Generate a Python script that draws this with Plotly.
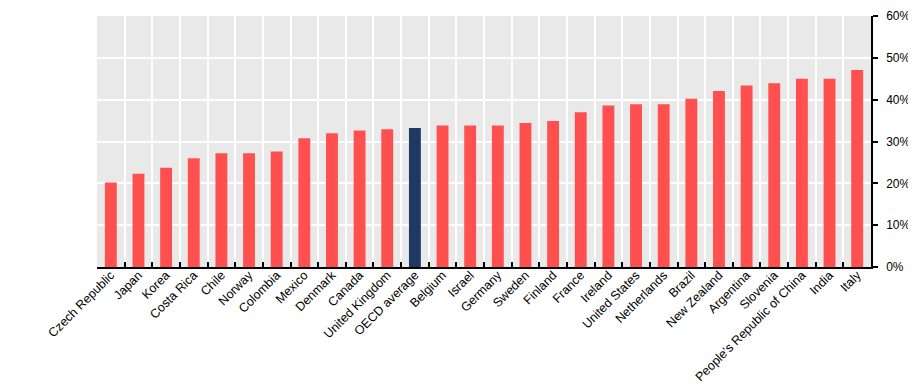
import plotly.graph_objects as go

countries = ["Czech Republic", "Japan", "Korea", "Costa Rica", "Chile", "Norway", "Colombia",
             "Mexico", "Denmark", "Canada", "United Kingdom", "OECD average", "Belgium", "Israel",
             "Germany", "Sweden", "Finland", "France", "Ireland", "United States", "Netherlands",
             "Brazil", "New Zealand", "Argentina", "Slovenia", "People's Republic of China",
             "India", "Italy"]
values = [20.2, 22.3, 23.7, 26.0, 27.2, 27.2, 27.6, 30.8, 32.0, 32.6, 32.9, 33.2, 33.8, 33.8,
          33.8, 34.4, 34.9, 37.0, 38.6, 38.9, 38.9, 40.2, 42.1, 43.4, 43.9, 45.0, 45.0, 47.1]
highlight = "OECD average"
y_ticks = [0, 10, 20, 30, 40, 50, 60]
y_labels = ["0%", "10%", "20%", "30%", "40%", "50%", "60%"]

RED = "#ff4f4f"
NAVY = "#1f3864"
colors = [NAVY if c == highlight else RED for c in countries]

fig = go.Figure(go.Bar(x=countries, y=values, marker=dict(color=colors, line=dict(width=0)),
                       width=0.43))

# page body has an 8px default margin; figure sized so it ends at the window edge
fig.update_layout(
    width=908, height=378,
    margin=dict(l=89, r=45, t=8, b=119),
    paper_bgcolor="white", plot_bgcolor="#e9e9e9",
    font=dict(family="Liberation Sans, Arial, sans-serif", size=12, color="black"),
    showlegend=False,
)
fig.update_xaxes(
    type="category", tickson="boundaries", ticks="inside", ticklen=5, tickcolor="black",
    tickwidth=1.5, showgrid=True, gridcolor="white", gridwidth=1.5, tickangle=-45,
    showline=True, linecolor="black", linewidth=2, range=[-0.5, len(countries) - 0.5],
    tickfont=dict(size=12.5), automargin=False, ticklabelstandoff=-6,
)
fig.update_yaxes(
    side="right", range=[0, 60], tickvals=y_ticks, ticktext=y_labels, ticks="outside",
    ticklen=5, tickcolor="black", tickwidth=1.5, showline=True, linecolor="black",
    linewidth=1.5, gridcolor="white", gridwidth=1.5, zeroline=False,
    tickfont=dict(size=12), automargin=False, ticklabelstandoff=6,
)

fig.write_html("out.html")
